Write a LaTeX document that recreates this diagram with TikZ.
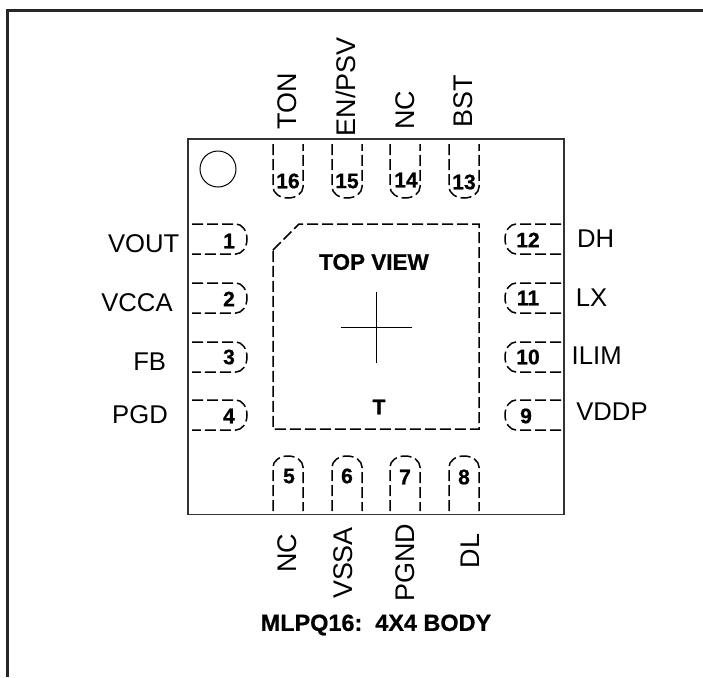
\documentclass[tikz,border=0pt]{standalone}
\usepackage{fontspec}
\setmainfont{Liberation Sans}
\newfontfamily\heavyfont[BoldFeatures={FakeBold=0.7}]{Liberation Sans}

\begin{document}
\begin{tikzpicture}[
		scale=1,
		every node/.style={inner sep=0pt, outer sep=0pt},
		signal/.style={font=\fontsize{21.9pt}{24pt}\selectfont},
		upright signal/.style={rotate=90, font=\fontsize{23pt}{25pt}\selectfont},
		pinnum/.style={font=\fontsize{18pt}{20pt}\selectfont\heavyfont\bfseries},
		heading/.style={font=\fontsize{19.2pt}{22pt}\selectfont\heavyfont\bfseries},
		pad/.style={line width=0.045cm, dash pattern=on 0.33cm off 0.12cm},
		left end/.style={start angle=90, end angle=-90, x radius=0.33cm, y radius=0.45cm},
		right end/.style={start angle=90, end angle=270, x radius=0.33cm, y radius=0.45cm},
		top end/.style={start angle=180, end angle=360, x radius=0.45cm, y radius=0.33cm},
		bottom end/.style={start angle=180, end angle=0, x radius=0.45cm, y radius=0.33cm}
	]
  \useasboundingbox (0cm, 0cm) rectangle (21.09cm, -20.31cm);
  % open frame
  \draw [line width=0.09cm, black!85] (21.09cm, -0.30cm) -- (0.21cm, -0.30cm) -- (0.21cm, -20.31cm);
  % package
  \draw [line width=0.05cm, black!80] (5.64cm, -4.17cm) rectangle (16.92cm, -15.43cm);
  \draw [line width=0.03cm] (6.54cm, -5.07cm) circle (0.54cm);
  \draw [pad] (8.19cm, -7.50cm) -- (8.97cm, -6.72cm) -- (14.37cm, -6.72cm) -- (14.37cm, -12.87cm) -- (8.19cm, -12.87cm) -- cycle;
  \draw [line width=0.03cm] (10.23cm, -9.81cm) -- (12.36cm, -9.81cm);
  \draw [line width=0.03cm] (11.28cm, -8.76cm) -- (11.28cm, -10.89cm);

  % left pads
  \draw [pad] (5.76cm, -6.72cm) -- (7.08cm, -6.72cm) arc [left end] -- (5.76cm, -7.62cm);
  \draw [pad] (5.76cm, -8.49cm) -- (7.08cm, -8.49cm) arc [left end] -- (5.76cm, -9.39cm);
  \draw [pad] (5.76cm, -10.26cm) -- (7.08cm, -10.26cm) arc [left end] -- (5.76cm, -11.16cm);
  \draw [pad] (5.76cm, -12.00cm) -- (7.08cm, -12.00cm) arc [left end] -- (5.76cm, -12.90cm);
  % right pads
  \draw [pad] (16.83cm, -6.72cm) -- (15.48cm, -6.72cm) arc [right end] -- (16.83cm, -7.62cm);
  \draw [pad] (16.83cm, -8.49cm) -- (15.48cm, -8.49cm) arc [right end] -- (16.83cm, -9.39cm);
  \draw [pad] (16.83cm, -10.26cm) -- (15.48cm, -10.26cm) arc [right end] -- (16.83cm, -11.16cm);
  \draw [pad] (16.83cm, -12.00cm) -- (15.48cm, -12.00cm) arc [right end] -- (16.83cm, -12.90cm);
  % top pads
  \draw [pad] (8.19cm, -4.32cm) -- (8.19cm, -5.61cm) arc [top end] -- (9.09cm, -4.32cm);
  \draw [pad] (9.96cm, -4.32cm) -- (9.96cm, -5.61cm) arc [top end] -- (10.86cm, -4.32cm);
  \draw [pad] (11.70cm, -4.32cm) -- (11.70cm, -5.61cm) arc [top end] -- (12.60cm, -4.32cm);
  \draw [pad] (13.47cm, -4.32cm) -- (13.47cm, -5.61cm) arc [top end] -- (14.37cm, -4.32cm);
  % bottom pads
  \draw [pad] (8.19cm, -15.33cm) -- (8.19cm, -14.01cm) arc [bottom end] -- (9.09cm, -15.33cm);
  \draw [pad] (9.96cm, -15.33cm) -- (9.96cm, -14.01cm) arc [bottom end] -- (10.86cm, -15.33cm);
  \draw [pad] (11.70cm, -15.33cm) -- (11.70cm, -14.01cm) arc [bottom end] -- (12.60cm, -15.33cm);
  \draw [pad] (13.47cm, -15.33cm) -- (13.47cm, -14.01cm) arc [bottom end] -- (14.37cm, -15.33cm);

  % pin numbers
  \node (pin_1) [pinnum] at (6.87cm, -7.23cm) {1};
  \node (pin_2) [pinnum] at (6.87cm, -8.97cm) {2};
  \node (pin_3) [pinnum] at (6.87cm, -10.71cm) {3};
  \node (pin_4) [pinnum] at (6.87cm, -12.48cm) {4};
  \node (pin_5) [pinnum] at (8.67cm, -14.28cm) {5};
  \node (pin_6) [pinnum] at (10.41cm, -14.28cm) {6};
  \node (pin_7) [pinnum] at (12.15cm, -14.31cm) {7};
  \node (pin_8) [pinnum] at (13.92cm, -14.31cm) {8};
  \node (pin_9) [pinnum] at (15.78cm, -12.48cm) {9};
  \node (pin_10) [pinnum] at (15.84cm, -10.71cm) {10};
  \node (pin_11) [pinnum] at (15.84cm, -8.94cm) {11};
  \node (pin_12) [pinnum] at (15.84cm, -7.20cm) {12};
  \node (pin_13) [pinnum] at (13.92cm, -5.46cm) {13};
  \node (pin_14) [pinnum] at (12.18cm, -5.40cm) {14};
  \node (pin_15) [pinnum] at (10.41cm, -5.43cm) {15};
  \node (pin_16) [pinnum] at (8.64cm, -5.43cm) {16};

  % signal names
  \node (vout) [signal] at (4.31cm, -7.32cm) {VOUT};
  \node (vcca) [signal] at (4.11cm, -9.09cm) {VCCA};
  \node (fb) [signal] at (4.49cm, -10.86cm) {FB};
  \node (pgd) [signal] at (4.20cm, -12.45cm) {PGD};
  \node (dh) [signal] at (17.87cm, -7.17cm) {DH};
  \node (lx) [signal] at (17.75cm, -8.94cm) {LX};
  \node (ilim) [signal] at (17.90cm, -10.68cm) {ILIM};
  \node (vddp) [signal] at (18.36cm, -12.36cm) {VDDP};
  \node (ton) [upright signal] at (8.61cm, -3.03cm) {TON};
  \node (en_psv) [upright signal] at (10.38cm, -2.61cm) {EN/PSV};
  \node (nc_top) [upright signal] at (12.15cm, -3.30cm) {NC};
  \node (bst) [upright signal] at (13.89cm, -3.03cm) {BST};
  \node (nc_bot) [upright signal] at (8.61cm, -16.59cm) {NC};
  \node (vssa) [upright signal] at (10.29cm, -16.89cm) {VSSA};
  \node (pgnd) [upright signal] at (12.15cm, -16.89cm) {PGND};
  \node (dl) [upright signal] at (14.10cm, -16.53cm) {DL};

  \node (top_view) [heading] at (11.22cm, -7.86cm) {TOP VIEW};
  \node (t_mark) [pinnum] at (11.37cm, -12.21cm) {T};
  \node (body) [heading, font=\fontsize{20pt}{22pt}\selectfont\heavyfont\bfseries] at (11.28cm, -18.75cm) {MLPQ16:\ \ 4X4 BODY};
\end{tikzpicture}
\end{document}
